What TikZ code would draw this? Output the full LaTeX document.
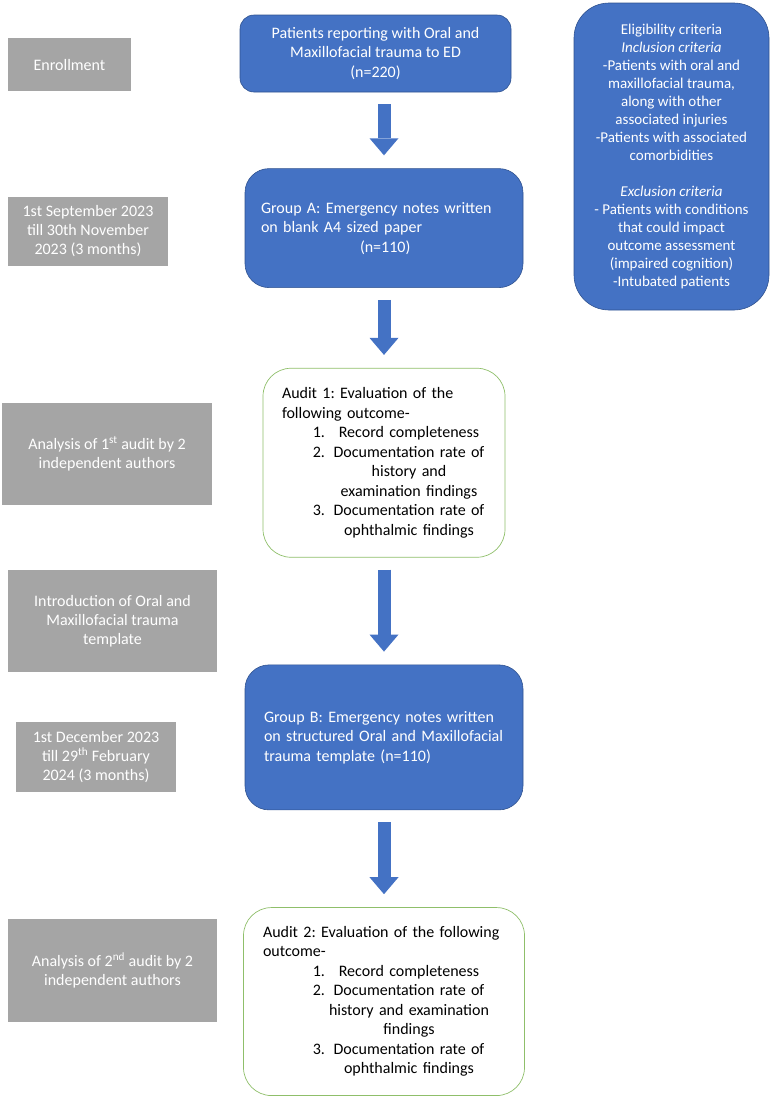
\documentclass[tikz,border=0pt]{standalone}
\usepackage{fontspec}
\setmainfont{Carlito}
\usepackage{tikz}
\usetikzlibrary{positioning}
\usetikzlibrary{shapes,arrows.meta}
\definecolor{boxblue}{HTML}{4472C4}
\definecolor{edgeblue}{HTML}{2F528F}
\definecolor{boxgrey}{HTML}{A5A5A5}
\definecolor{auditgreen}{HTML}{8FBF6A}
\frenchspacing
\tikzstyle{block} = [rectangle, draw=edgeblue, line width=0.6pt, fill=boxblue, 
    text=white, font=\fontsize{16}{19.5}\selectfont]
\tikzstyle{phase} = [rectangle, fill=boxgrey, text=white, align=center, 
    font=\fontsize{16}{19}\selectfont]
\tikzstyle{audit} = [rectangle, draw=auditgreen, line width=0.7pt, fill=white, 
    rounded corners=28pt, align=left, font=\fontsize{16}{19.5}\selectfont]
\tikzstyle{criteria} = [block, rounded corners=35pt, align=center, 
    font=\fontsize{15}{18}\selectfont]
\tikzstyle{line} = [draw=boxblue, line width=13pt, 
    -{Triangle[width=29pt,length=17pt,line width=0pt]}, shorten <=12pt, shorten >=13pt]
\newcommand{\itm}[3][43pt]{\makebox[#1][r]{#2}\hspace{10pt}\makebox[148pt]{#3}}

\begin{document}
\begin{tikzpicture}[x=1pt, y=-1pt, node distance=80pt, auto]
        \useasboundingbox (0,0) rectangle (770,1096);
        \node [block, rounded corners=14pt, minimum width=271pt, minimum height=77pt, align=center] (init) at (375.5,53.5) {Patients reporting with Oral and\\ Maxillofacial trauma to ED\\ (n=220)};
        \node [block, rounded corners=24pt, minimum height=119pt, inner xsep=16pt, text width=246pt, align=left, below=76pt of init, xshift=8.5pt] (grpA) {Group A: Emergency notes written\\ on blank A4 sized paper\\ \hspace*{99pt}(n=110)};
        \node [audit, minimum height=189pt, inner xsep=19pt, text width=204pt, below=80pt of grpA] (audit1) {Audit 1: Evaluation of the\\ following outcome-\\ \itm{1.}{Record completeness}\\ \itm{2.}{Documentation rate of}\\ \itm{}{history and}\\ \itm{}{examination findings}\\ \itm{3.}{Documentation rate of}\\ \itm{}{ophthalmic findings}};
        \node [block, rounded corners=24pt, minimum height=145pt, inner xsep=19pt, text width=240pt, align=left, below=107pt of audit1] (grpB) {Group B: Emergency notes written\\ on structured Oral and Maxillofacial\\ trauma template (n=110)};
        \node [audit, minimum height=188pt, inner xsep=19.5pt, text width=242pt, below=97pt of grpB] (audit2) {Audit 2: Evaluation of the following\\ outcome-\\ \itm[62pt]{1.}{Record completeness}\\ \itm[62pt]{2.}{Documentation rate of}\\ \itm[62pt]{}{history and examination}\\ \itm[62pt]{}{findings}\\ \itm[62pt]{3.}{Documentation rate of}\\ \itm[62pt]{}{ophthalmic findings}};
        \node [criteria, minimum width=195pt, minimum height=307pt] (elig) at (671.5,156.5) {Eligibility criteria\\ \textit{Inclusion criteria}\\ -Patients with oral and\\ maxillofacial trauma,\\ along with other\\ associated injuries\\ -Patients with associated\\ comorbidities\\[18pt] \textit{Exclusion criteria}\\ - Patients with conditions\\ that could impact\\ outcome assessment\\ (impaired cognition)\\ -Intubated patients};
        % phases on the left
        \node [phase, minimum width=123pt, minimum height=53pt] (enrol) at (69.5,64.5) {Enrollment};
        \node [phase, minimum width=160pt, minimum height=69pt] (periodA) at (88,231.5) {1st September 2023\\ till 30th November\\ 2023 (3 months)};
        \node [phase, minimum width=210pt, minimum height=102pt] (anaA) at (107,454) {Analysis of 1\textsuperscript{st} audit by 2\\ independent authors};
        \node [phase, minimum width=209pt, minimum height=102pt] (intro) at (112.5,621) {Introduction of Oral and\\ Maxillofacial trauma\\ template};
        \node [phase, minimum width=160pt, minimum height=70pt] (periodB) at (96,757) {1st December 2023\\ till 29\textsuperscript{th} February\\ 2024 (3 months)};
        \node [phase, minimum width=209pt, minimum height=103pt] (anaB) at (112.5,970.5) {Analysis of 2\textsuperscript{nd} audit by 2\\ independent authors};
        % edges
        \path [line] (init.south -| grpA.south) -- (grpA.north);
        \path [line] (grpA.south) -- (audit1.north);
        \path [line] (audit1.south) -- (grpB.north);
        \path [line] (grpB.south) -- (audit2.north);
    \end{tikzpicture}
\end{document}
